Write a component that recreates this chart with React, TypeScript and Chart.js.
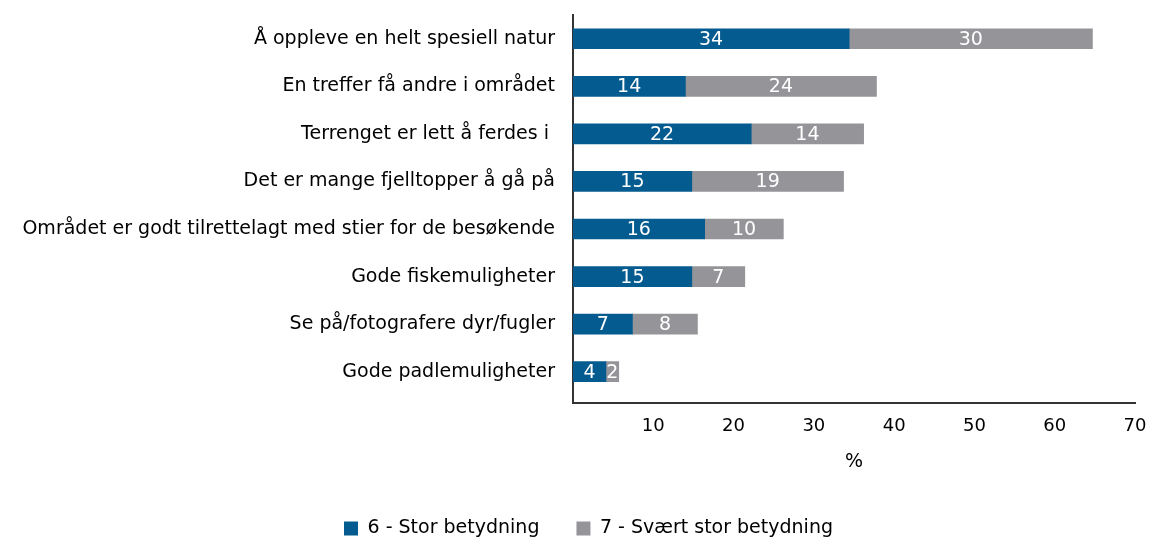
import React, { useEffect, useRef } from "react";
import { Chart, registerables, CategoryScale } from "chart.js";

Chart.register(...registerables);

class PaddedCategoryScale extends (CategoryScale as any) {
  static id = "paddedCategory";
  static defaults = (CategoryScale as any).defaults;
  configure() {
    super.configure();
    // a little extra room below the last category, as in the reference
    this._valueRange += 0.075;
  }
}
Chart.register(PaddedCategoryScale as any);

const categories = [
  "Å oppleve en helt spesiell natur",
  "En treffer få andre i området",
  "Terrenget er lett å ferdes i ",
  "Det er mange fjelltopper å gå på",
  "Området er godt tilrettelagt med stier for de besøkende",
  "Gode fiskemuligheter",
  "Se på/fotografere dyr/fugler",
  "Gode padlemuligheter",
];
const stor = [34.4, 14.0, 22.2, 14.8, 16.4, 14.8, 7.4, 4.1];
const svaertStor = [30.3, 23.8, 14.0, 18.9, 9.8, 6.6, 8.1, 1.6];
const seriesNames = ["6 - Stor betydning", "7 - Svært stor betydning"];
const xTicks = [10, 20, 30, 40, 50, 60, 70];

const FONT = "'DejaVu Sans', sans-serif";

const barLabels = {
  id: "barLabels",
  afterDatasetsDraw(chart: any) {
    const ctx = chart.ctx;
    ctx.save();
    ctx.fillStyle = "#ffffff";
    ctx.font = `19px ${FONT}`;
    ctx.textAlign = "center";
    ctx.textBaseline = "middle";
    chart.data.datasets.forEach((ds: any, i: number) => {
      const meta = chart.getDatasetMeta(i);
      meta.data.forEach((bar: any, j: number) => {
        const v = ds.data[j];
        const cx = (bar.x + bar.base) / 2;
        ctx.fillText(String(Math.round(v)), cx, bar.y + 1);
      });
    });
    ctx.restore();
  },
};

const legendFix = {
  id: "legendFix",
  afterInit(chart: any) {
    const lg = chart.legend;
    if (!lg) return;
    const f = lg.fit.bind(lg);
    lg.fit = () => {
      f();
      lg.height = 57;
    };
    const d = lg.draw.bind(lg);
    lg.draw = () => {
      const ctx = chart.ctx;
      ctx.save();
      ctx.translate(21, 0);
      d();
      ctx.restore();
    };
  },
};

export default function App() {
  const ref = useRef<HTMLCanvasElement>(null);
  useEffect(() => {
    document.body.style.margin = "0";
    const chart = new Chart(ref.current!, {
      type: "bar",
      data: {
        labels: categories,
        datasets: [
          { label: seriesNames[0], data: stor, backgroundColor: "#045b8f", barThickness: 20 },
          { label: seriesNames[1], data: svaertStor, backgroundColor: "#959599", barThickness: 20 },
        ],
      },
      options: {
        indexAxis: "y",
        animation: false,
        responsive: false,
        layout: { padding: { top: 15, right: 14, left: 0, bottom: 0 } },
        plugins: {
          tooltip: { enabled: false },
          legend: {
            position: "bottom",
            labels: {
              boxWidth: 14,
              boxHeight: 14,
              color: "#000",
              font: { family: FONT, size: 19 },
              padding: 37,
            },
          },
        },
        scales: {
          x: {
            stacked: true,
            min: 0,
            max: 70,
            afterBuildTicks: (axis: any) => {
              axis.ticks = [0, ...xTicks].map((v) => ({ value: v }));
            },
            afterFit: (axis: any) => {
              axis.paddingRight = 0;
              axis.paddingLeft = 0;
            },
            ticks: {
              color: "#000",
              font: { family: FONT, size: 18 },
              padding: 13,
              maxRotation: 0,
              callback: (v: any) => (v === 0 ? "" : String(v)),
            },
            grid: { display: false, drawTicks: false },
            border: { display: true, color: "#333", width: 2 },
            title: {
              display: true,
              text: "%",
              color: "#000",
              font: { family: FONT, size: 19 },
              padding: { top: 0, bottom: 9 },
            },
          },
          y: {
            type: "paddedCategory" as any,
            stacked: true,
            afterFit: (axis: any) => {
              axis.width = 573;
              axis.paddingTop = 0;
              axis.paddingBottom = 0;
            },
            ticks: {
              color: "#000",
              font: { family: FONT, size: 19 },
              padding: 18,
            },
            grid: { display: false, drawTicks: false },
            border: { display: true, color: "#333", width: 2 },
          },
        },
      },
      plugins: [barLabels, legendFix],
    });
    return () => chart.destroy();
  }, []);
  return <canvas ref={ref} width={1149} height={539} style={{ display: "block" }} />;
}
